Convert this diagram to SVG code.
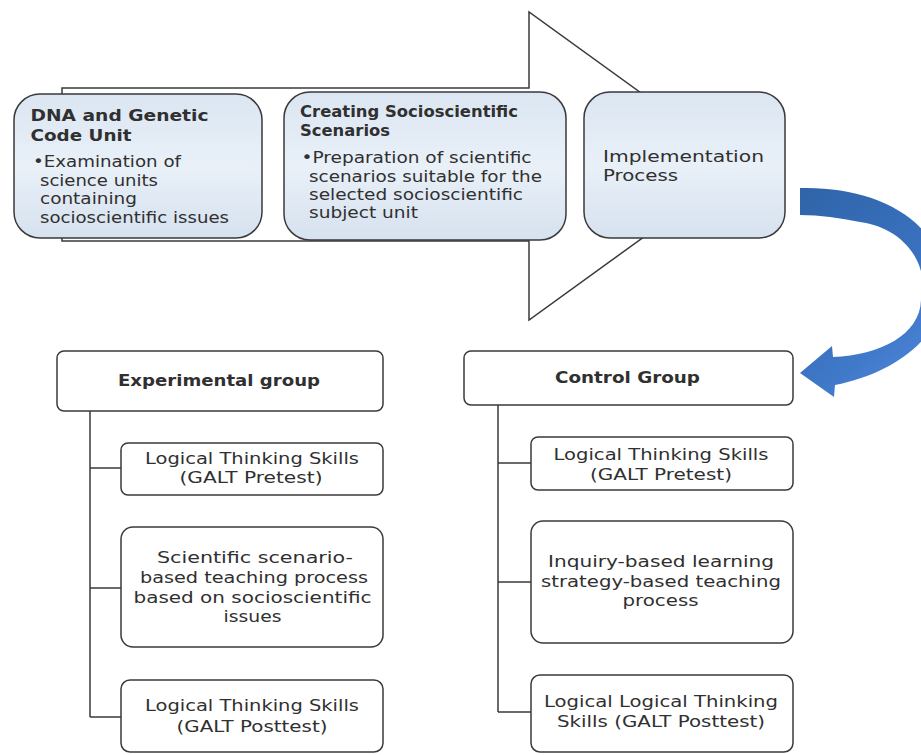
<svg xmlns="http://www.w3.org/2000/svg" width="921" height="755" viewBox="0 0 921 755">
<style>
.t{font-family:"DejaVu Sans","Liberation Sans",sans-serif;font-size:15.5px;fill:#303030}
.b{font-weight:bold}
.c{text-anchor:middle}
.box{fill:url(#bg);stroke:#3a3a3a;stroke-width:1.5}
.gb{fill:#fff;stroke:#3a3a3a;stroke-width:1.5}
.ln{fill:none;stroke:#3a3a3a;stroke-width:1.5}
</style>
<defs>
<linearGradient id="bg" x1="0" y1="0" x2="0" y2="1">
<stop offset="0" stop-color="#dbe6f2"/>
<stop offset="0.5" stop-color="#e9f0f8"/>
<stop offset="1" stop-color="#d6e2ef"/>
</linearGradient>
<linearGradient id="blue" x1="0" y1="0" x2="0.6" y2="1">
<stop offset="0" stop-color="#2f64a8"/>
<stop offset="0.6" stop-color="#3a72c0"/>
<stop offset="1" stop-color="#4a82d6"/>
</linearGradient>
</defs>
<rect width="921" height="755" fill="#fff"/>
<g id="process-arrow">
<path class="ln" style="fill:#fff" d="M62,88 L529,88 L529,12 L742,166 L529,320 L529,241 L62,241 Z"/>
</g>
<g id="node-dna">
<rect class="box" x="14" y="94" width="248" height="144" rx="26"/>
<text class="t b" x="30.5" y="121" textLength="178" lengthAdjust="spacingAndGlyphs">DNA and Genetic</text>
<text class="t b" x="30.5" y="141" textLength="101" lengthAdjust="spacingAndGlyphs">Code Unit</text>
<text class="t" x="33" y="167" textLength="148" lengthAdjust="spacingAndGlyphs">•Examination of</text>
<text class="t" x="40" y="186" textLength="118" lengthAdjust="spacingAndGlyphs">science units</text>
<text class="t" x="40" y="204" textLength="97" lengthAdjust="spacingAndGlyphs">containing</text>
<text class="t" x="40" y="223" textLength="189" lengthAdjust="spacingAndGlyphs">socioscientific issues</text>
</g>
<g id="node-scenarios">
<rect class="box" x="284" y="92" width="282" height="148" rx="26"/>
<text class="t b" x="300" y="117" textLength="218" lengthAdjust="spacingAndGlyphs">Creating Socioscientific</text>
<text class="t b" x="300" y="136" textLength="90" lengthAdjust="spacingAndGlyphs">Scenarios</text>
<text class="t" x="301.5" y="163" textLength="230" lengthAdjust="spacingAndGlyphs">•Preparation of scientific</text>
<text class="t" x="309" y="182" textLength="233" lengthAdjust="spacingAndGlyphs">scenarios suitable for the</text>
<text class="t" x="309" y="200" textLength="214" lengthAdjust="spacingAndGlyphs">selected socioscientific</text>
<text class="t" x="309" y="218" textLength="109" lengthAdjust="spacingAndGlyphs">subject unit</text>
</g>
<g id="node-implementation">
<rect class="box" x="584" y="92" width="201" height="146" rx="26"/>
<text class="t" x="603" y="162" textLength="161" lengthAdjust="spacingAndGlyphs">Implementation</text>
<text class="t" x="603" y="181" textLength="75" lengthAdjust="spacingAndGlyphs">Process</text>
</g>
<g id="connectors">
<path fill="url(#blue)" d="M800,188 C870,186 935,215 944,275 C952,330 900,372 835,385 L834,397 L800,373 L832,346 L833,357 C880,355 920,335 921,300 C930,265 905,228 860,222 C840,218 820,215 800,215 Z"/>
<path class="ln" d="M90,411 L90,717 M90,468 L121,468 M90,588 L121,588 M90,717 L121,717"/>
<path class="ln" d="M498,405 L498,712 M498,463 L531,463 M498,582 L531,582 M498,712 L531,712"/>
</g>
<g id="node-experimental">
<rect class="gb" x="57" y="351" width="326" height="60" rx="7"/>
<text class="t b c" x="219" y="386" textLength="202" lengthAdjust="spacingAndGlyphs">Experimental group</text>
</g>
<g id="node-exp-pretest">
<rect class="gb" x="121" y="443" width="262" height="52" rx="7"/>
<text class="t c" x="252" y="464" textLength="214" lengthAdjust="spacingAndGlyphs">Logical Thinking Skills</text>
<text class="t c" x="251" y="483" textLength="143" lengthAdjust="spacingAndGlyphs">(GALT Pretest)</text>
</g>
<g id="node-exp-teaching">
<rect class="gb" x="121" y="527" width="262" height="120" rx="12"/>
<text class="t c" x="255" y="563" textLength="196" lengthAdjust="spacingAndGlyphs">Scientific scenario-</text>
<text class="t c" x="254" y="583" textLength="228" lengthAdjust="spacingAndGlyphs">based teaching process</text>
<text class="t c" x="252.5" y="603" textLength="238" lengthAdjust="spacingAndGlyphs">based on socioscientific</text>
<text class="t c" x="252.5" y="622" textLength="58" lengthAdjust="spacingAndGlyphs">issues</text>
</g>
<g id="node-exp-posttest">
<rect class="gb" x="121" y="680" width="262" height="72" rx="9"/>
<text class="t c" x="252" y="711" textLength="214" lengthAdjust="spacingAndGlyphs">Logical Thinking Skills</text>
<text class="t c" x="252" y="732" textLength="151" lengthAdjust="spacingAndGlyphs">(GALT Posttest)</text>
</g>
<g id="node-control">
<rect class="gb" x="464" y="351" width="329" height="54" rx="7"/>
<text class="t b c" x="627.5" y="383" textLength="145" lengthAdjust="spacingAndGlyphs">Control Group</text>
</g>
<g id="node-ctrl-pretest">
<rect class="gb" x="531" y="437" width="262" height="53" rx="7"/>
<text class="t c" x="661" y="460" textLength="215" lengthAdjust="spacingAndGlyphs">Logical Thinking Skills</text>
<text class="t c" x="661" y="480" textLength="142" lengthAdjust="spacingAndGlyphs">(GALT Pretest)</text>
</g>
<g id="node-ctrl-teaching">
<rect class="gb" x="531" y="521" width="262" height="122" rx="12"/>
<text class="t c" x="661" y="567" textLength="226" lengthAdjust="spacingAndGlyphs">Inquiry-based learning</text>
<text class="t c" x="661" y="587" textLength="240" lengthAdjust="spacingAndGlyphs">strategy-based teaching</text>
<text class="t c" x="660.5" y="606" textLength="76" lengthAdjust="spacingAndGlyphs">process</text>
</g>
<g id="node-ctrl-posttest">
<rect class="gb" x="531" y="675" width="262" height="77" rx="9"/>
<text class="t c" x="661" y="707" textLength="234" lengthAdjust="spacingAndGlyphs">Logical Logical Thinking</text>
<text class="t c" x="661" y="727" textLength="208" lengthAdjust="spacingAndGlyphs">Skills (GALT Posttest)</text>
</g>
</svg>
